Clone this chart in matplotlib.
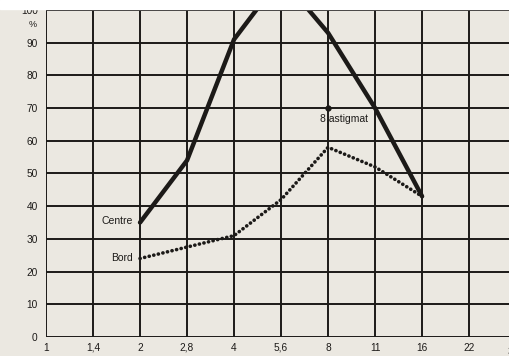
import matplotlib.pyplot as plt
from matplotlib.patches import Rectangle

# f-stops on the x axis (evenly spaced categories)
apertures = ["1", "1,4", "2", "2,8", "4", "5,6", "8", "11", "16", "22", "32"]

# sharpness in %, from f/2 to f/16
centre_x = ["2", "2,8", "4", "5,6", "8", "11", "16"]
centre = [35, 54, 91, 110, 93, 70, 43]
bord_x = ["2", "2,8", "4", "5,6", "8", "11", "16"]
bord = [24, 27.5, 31, 42, 58, 52, 43]

astigmat_x = "8"
astigmat_y = 70

paper = "#ebe8e1"
ink = "#1c1a18"

plt.rcParams["font.family"] = ["Liberation Sans", "DejaVu Sans"]

fig = plt.figure(figsize=(5.1, 3.56), dpi=100, facecolor=paper)
fig.patches.append(Rectangle((0, 0.975), 1, 0.025, transform=fig.transFigure,
                             color="white", zorder=0))
ax = fig.add_axes([0.0902, 0.0534, 0.9098, 0.9186])
ax.set_facecolor(paper)

pos = {a: i for i, a in enumerate(apertures)}

# grid drawn by hand so it sits under the curves
for i in range(len(apertures)):
    ax.axvline(i, color=ink, lw=1.4, zorder=1)
for v in range(0, 101, 10):
    ax.axhline(v, color=ink, lw=1.4, zorder=1)

ax.plot([pos[a] for a in centre_x], centre, color=ink, lw=3.2,
        solid_capstyle="round", zorder=3)
ax.plot([pos[a] for a in bord_x], bord, color=ink, lw=2.6,
        linestyle=(0, (0.05, 1.25)), dash_capstyle="round", zorder=3)

ax.plot(pos[astigmat_x], astigmat_y, "o", color=ink, ms=3.5, zorder=4)
ax.text(pos[astigmat_x] - 0.17, 66.8, "8 astigmat", fontsize=7.5, color=ink,
        ha="left", va="center", zorder=4)

ax.text(pos["2"] - 0.15, 35.5, "Centre", fontsize=7.5, color=ink,
        ha="right", va="center")
ax.text(pos["2"] - 0.15, 24.2, "Bord", fontsize=7.5, color=ink,
        ha="right", va="center")

ax.set_xlim(0, 9.87)
ax.set_ylim(0, 100)
for s in ax.spines.values():
    s.set_visible(False)
ax.tick_params(length=0, colors=ink, labelsize=7.3)

ax.set_xticks(range(len(apertures) - 1))
ax.set_xticklabels(apertures[:-1])
ax.tick_params(axis="x", pad=4)
# last label is cut by the edge of the picture, as in the scan
ax.text(9.93, -3.1, apertures[-1], fontsize=7.3, color=ink, ha="center",
        va="top", clip_on=False)

ax.set_yticks(range(0, 101, 10))
ax.tick_params(axis="y", pad=6)
ax.text(-0.2, 95.6, "%", fontsize=6.5, color=ink, ha="right", va="center",
        clip_on=False)

fig.savefig("out.png", dpi=100, facecolor=paper)
